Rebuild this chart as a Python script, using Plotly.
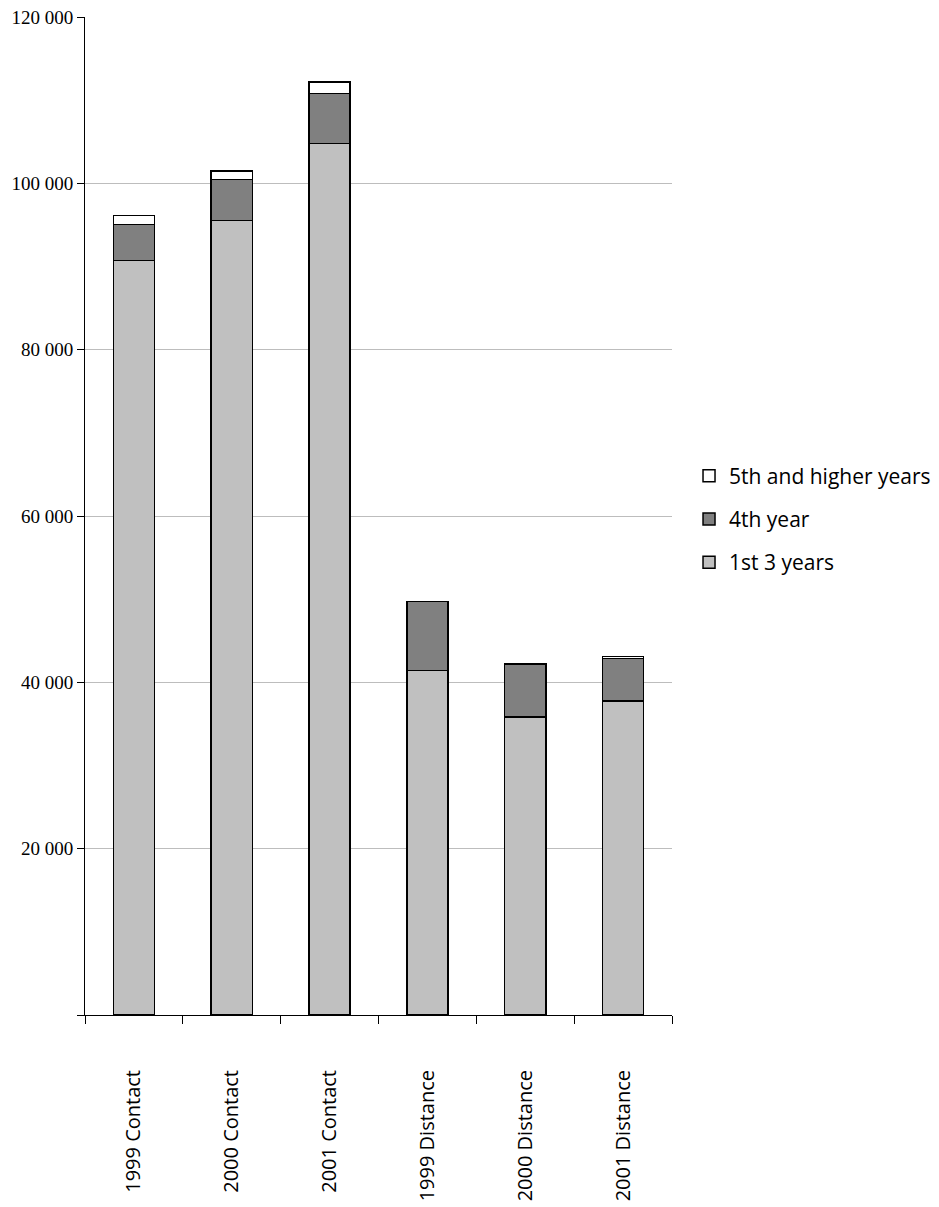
import plotly.graph_objects as go

categories = ["1999 Contact", "2000 Contact", "2001 Contact",
              "1999 Distance", "2000 Distance", "2001 Distance"]
first_three_years = [90740, 95550, 104770, 41430, 35810, 37740]
fourth_year = [4330, 4890, 6050, 8300, 6380, 5100]
fifth_and_higher = [1080, 1040, 1360, 0, 0, 270]

y_ticks = [0, 20000, 40000, 60000, 80000, 100000, 120000]
y_tick_text = ["", "20 000", "40 000", "60 000", "80 000", "100 000", "120 000"]

# (name, values, fill colour, legend rank)
series = [
    ("1st 3 years", first_three_years, "#c0c0c0", 3),
    ("4th year", fourth_year, "#808080", 2),
    ("5th and higher years", fifth_and_higher, "#ffffff", 1),
]

fig = go.Figure()
for name, vals, color, rank in series:
    fig.add_trace(go.Bar(
        x=categories, y=vals, name=name, legendgroup=name, legendrank=rank,
        marker=dict(color=color, line=dict(color="black", width=1.5)),
        width=0.42,
    ))

fig.update_layout(
    barmode="stack",
    width=939, height=1207,
    margin=dict(l=85, r=267, t=17, b=192, autoexpand=False),
    paper_bgcolor="white", plot_bgcolor="white",
    showlegend=True,
    legend=dict(
        x=1.029, xanchor="left", y=0.497, yanchor="middle",
        traceorder="grouped", tracegroupgap=13,
        font=dict(family="Open Sans", size=21, color="black"),
        itemwidth=30,
    ),
    xaxis=dict(
        showline=True, linecolor="black", linewidth=1,
        ticks="outside", tickson="boundaries", ticklen=8,
        tickcolor="black", tickangle=-90, ticklabelstandoff=46,
        tickfont=dict(family="Open Sans", size=20, color="black"),
        showgrid=False, automargin=False,
    ),
    yaxis=dict(
        range=[0, 120000], tickvals=y_ticks, ticktext=y_tick_text,
        showline=True, linecolor="black", linewidth=1,
        ticks="outside", ticklen=7, tickcolor="black",
        tickfont=dict(family="Liberation Serif", size=19, color="black"),
        showgrid=True, gridcolor="#bdbdbd", gridwidth=1,
        zeroline=False, automargin=False,
    ),
)

fig.write_html("out.html")
